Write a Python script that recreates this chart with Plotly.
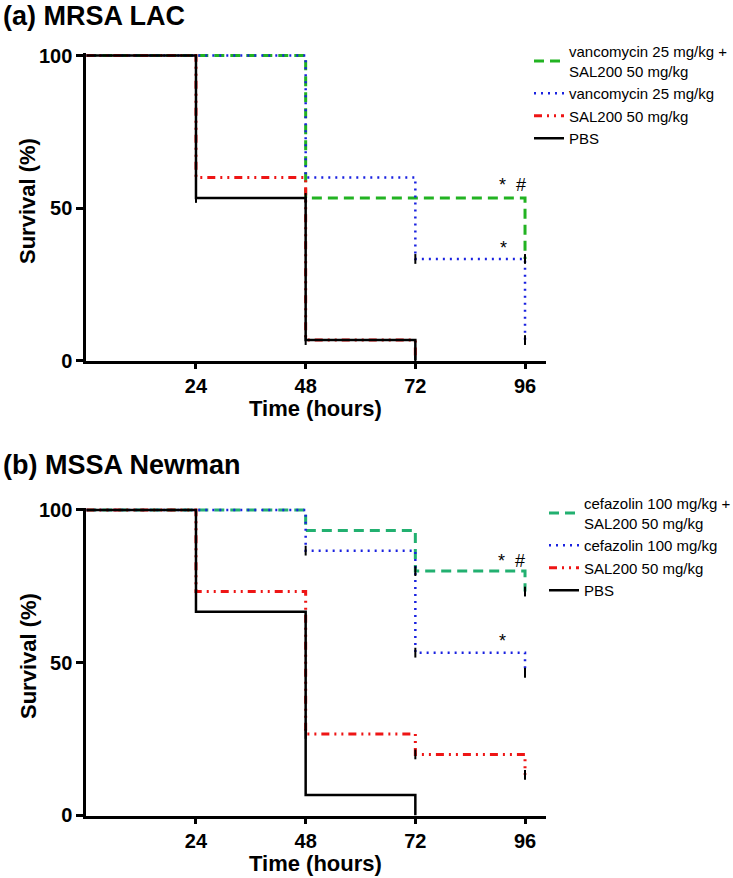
import plotly.graph_objects as go

# ---------------- data ----------------
# Panel (a) MRSA LAC : step survival curves (time in hours, survival %)
a_time_combo = [0, 48, 48, 96, 96]
a_surv_combo = [100, 100, 53.3, 53.3, 33.3]
a_time_vanco = [0, 48, 48, 72, 72, 96, 96]
a_surv_vanco = [100, 100, 60, 60, 33.3, 33.3, 6.7]
a_time_sal = [0, 24, 24, 48, 48, 72, 72]
a_surv_sal = [100, 100, 60, 60, 6.7, 6.7, 0]
a_time_pbs = [0, 24, 24, 48, 48, 72, 72]
a_surv_pbs = [100, 100, 53.3, 53.3, 6.7, 6.7, 0]
a_cens_t = [24, 24, 48, 48, 72, 72, 96, 96]
a_cens_s = [53.3, 60, 6.7, 53.3, 0, 33.3, 33.3, 6.7]

# Panel (b) MSSA Newman
b_time_combo = [0, 48, 48, 72, 72, 96, 96]
b_surv_combo = [100, 100, 93.3, 93.3, 80, 80, 73.3]
b_time_cef = [0, 48, 48, 72, 72, 96, 96]
b_surv_cef = [100, 100, 86.7, 86.7, 53.3, 53.3, 46.7]
b_time_sal = [0, 24, 24, 48, 48, 72, 72, 96, 96]
b_surv_sal = [100, 100, 73.3, 73.3, 26.7, 26.7, 20, 20, 13.3]
b_time_pbs = [0, 24, 24, 48, 48, 72, 72]
b_surv_pbs = [100, 100, 66.7, 66.7, 6.7, 6.7, 0]
b_cens_t = [24, 48, 48, 72, 72, 72, 96, 96, 96]
b_cens_s = [73.3, 86.7, 26.7, 80, 53.3, 20, 73.3, 46.7, 13.3]

x_ticks = [24, 48, 72, 96]
y_ticks = [0, 50, 100]

names_a = ["vancomycin 25 mg/kg +<br>SAL200 50 mg/kg", "vancomycin 25 mg/kg", "SAL200 50 mg/kg", "PBS"]
names_b = ["cefazolin 100 mg/kg +<br>SAL200 50 mg/kg", "cefazolin 100 mg/kg", "SAL200 50 mg/kg", "PBS"]

GREEN_A = "#22b322"
GREEN_B = "#22b070"
BLUE = "#1a22e0"
RED = "#ee1515"
FONT = "Liberation Sans, Arial, sans-serif"

fig = go.Figure()

def add_panel(xa, ya, legend, times, survs, names, colors, dashes, widths, cens_t, cens_s):
    for t, s, n, c, d, w in zip(times, survs, names, colors, dashes, widths):
        fig.add_trace(go.Scatter(x=t, y=s, mode="lines", name=n,
                                 line=dict(color=c, dash=d, width=w),
                                 xaxis=xa, yaxis=ya, legend=legend))
    fig.add_trace(go.Scatter(x=cens_t, y=cens_s, mode="markers", showlegend=False,
                             marker=dict(symbol="line-ns", size=7, color="black",
                                         line=dict(color="black", width=2)),
                             xaxis=xa, yaxis=ya, cliponaxis=False))

dashes = ["10px,6px", "2px,5px", "8px,5px,2px,5px,2px,5px", "solid"]
widths = [3, 2.5, 3, 2.5]

add_panel("x", "y", "legend",
          [a_time_combo, a_time_vanco, a_time_sal, a_time_pbs],
          [a_surv_combo, a_surv_vanco, a_surv_sal, a_surv_pbs],
          names_a, [GREEN_A, BLUE, RED, "black"], dashes, widths, a_cens_t, a_cens_s)
add_panel("x2", "y2", "legend2",
          [b_time_combo, b_time_cef, b_time_sal, b_time_pbs],
          [b_surv_combo, b_surv_cef, b_surv_sal, b_surv_pbs],
          names_b, [GREEN_B, BLUE, RED, "black"], dashes, widths, b_cens_t, b_cens_s)

# page body margin is removed by post_script, so figure pixels == page pixels
W, H = 733, 878
def px(x):
    return x / W
def py(y):
    return 1 - y / H
def dom_x(p0, p1):
    return [px(p0), px(p1)]
def dom_y(top_px, bot_px):
    return [py(bot_px), py(top_px)]

xr = [0, 100.5]
yr = [0, 100.8]
xs = 4.57
xpx0 = 86.3
xpx1 = xpx0 + xr[1] * xs

tickfont = dict(family=FONT, size=20, color="black", weight="bold")
xaxis_common = dict(showline=True, linecolor="black", linewidth=3, ticks="outside",
                    tickwidth=2.5, ticklen=5, tickcolor="black", showgrid=False, zeroline=False,
                    tickfont=tickfont, range=xr, tickvals=x_ticks, automargin=False)
yaxis_common = dict(showline=True, linecolor="black", linewidth=3, ticks="outside",
                    tickwidth=2.5, ticklen=7, tickcolor="black", showgrid=False, zeroline=False,
                    tickfont=tickfont, range=yr, tickvals=y_ticks, automargin=False)

ya0, yas = 360.5, 3.05
yb0, ybs = 815.5, 3.055

fig.update_layout(
    width=W, height=H, plot_bgcolor="white", paper_bgcolor="white",
    margin=dict(l=0, r=0, t=0, b=0, autoexpand=False),
    xaxis=dict(domain=dom_x(xpx0, xpx1), anchor="y", **xaxis_common),
    yaxis=dict(domain=dom_y(ya0 - yr[1] * yas, ya0), anchor="x", **yaxis_common),
    xaxis2=dict(domain=dom_x(xpx0, xpx1), anchor="y2", **xaxis_common),
    yaxis2=dict(domain=dom_y(yb0 - yr[1] * ybs, yb0), anchor="x2", **yaxis_common),
    legend=dict(x=px(529), y=py(35), xanchor="left", yanchor="top",
                font=dict(family=FONT, size=15, color="black"), tracegroupgap=0,
                bgcolor="rgba(0,0,0,0)", itemwidth=30),
    legend2=dict(x=px(544), y=py(487), xanchor="left", yanchor="top",
                 font=dict(family=FONT, size=15, color="black"), tracegroupgap=0,
                 bgcolor="rgba(0,0,0,0)", itemwidth=30),
    showlegend=True,
)

def ann(text, x, y, size, bold=True, xref="paper", yref="paper", xanchor="center", yanchor="middle", angle=0):
    fig.add_annotation(text=text, x=x, y=y, xref=xref, yref=yref, showarrow=False,
                       xanchor=xanchor, yanchor=yanchor, textangle=angle,
                       font=dict(family=FONT, size=size, color="black", weight="bold" if bold else "normal"))

# Panel titles
ann("(a) MRSA LAC", px(1), py(16), 27, xanchor="left")
ann("(b) MSSA Newman", px(1), py(465), 27, xanchor="left")
# Axis titles
ann("Survival (%)", px(28), py(201), 22, angle=-90)
ann("Survival (%)", px(28), py(656), 22, angle=-90)
ann("Time (hours)", px(315), py(408), 22)
ann("Time (hours)", px(315), py(863), 22)
# Significance marks
ann("*  #", 93.2, 57.6, 18, bold=False, xref="x", yref="y")
ann("*", 91.2, 36.8, 18, bold=False, xref="x", yref="y")
ann("*  #", 93.0, 83.4, 18, bold=False, xref="x2", yref="y2")
ann("*", 91.0, 57.0, 18, bold=False, xref="x2", yref="y2")

fig.write_html("out.html", config={"displayModeBar": False},
               post_script="document.body.style.margin='0';document.body.style.overflow='hidden';")
